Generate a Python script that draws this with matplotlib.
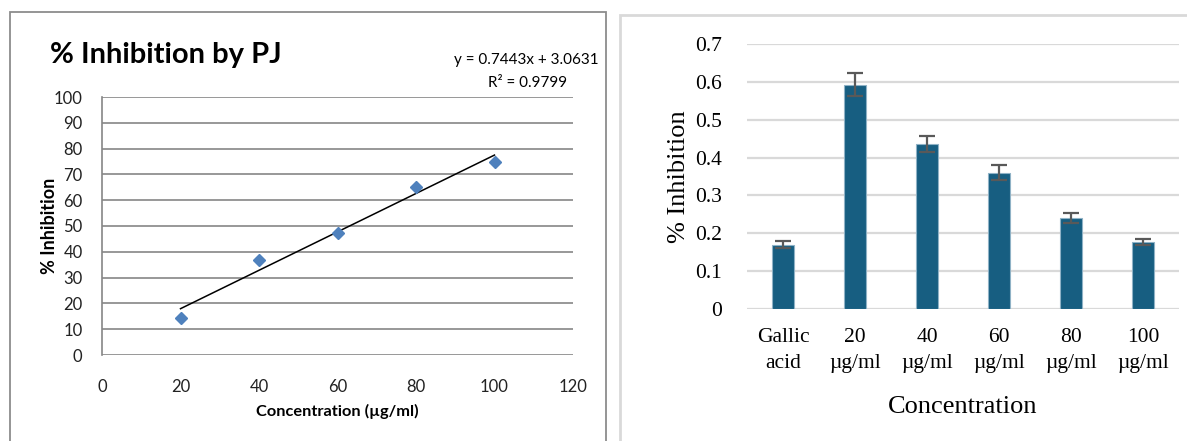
import numpy as np
import matplotlib.pyplot as plt
from matplotlib.patches import Rectangle

# left chart: % inhibition by PJ (scatter + linear trend)
conc = [20, 40, 60, 80, 100]
inhib_pj = [14.2, 37.0, 47.4, 65.2, 74.7]
slope, intercept = 0.7443, 3.0631
r2 = 0.9799

# right chart: bar chart with error bars
categories = ['Gallic\nacid', '20\n\u00b5g/ml', '40\n\u00b5g/ml', '60\n\u00b5g/ml', '80\n\u00b5g/ml', '100\n\u00b5g/ml']
inhib = [0.170, 0.593, 0.436, 0.360, 0.240, 0.177]
err = [0.010, 0.030, 0.022, 0.020, 0.014, 0.009]

W, H = 1187, 441
fig = plt.figure(figsize=(W / 100, H / 100), dpi=100)

# panel frames
fig.patches.append(Rectangle((10 / W, -0.05), 596 / W, 1.05 - 12 / H, transform=fig.transFigure,
                             fill=False, edgecolor='#8c8c8c', lw=1.3))
fig.patches.append(Rectangle((620 / W, -0.05), 0.6, 1.05 - 15 / H, transform=fig.transFigure,
                             fill=False, edgecolor='#d9d9d9', lw=2))

# ---- left ----
sans = 'Lato'
ax1 = fig.add_axes([102 / W, (H - 355) / H, (573 - 102) / W, (355 - 97) / H])
ax1.set_xlim(0, 120)
ax1.set_ylim(0, 100)
ax1.set_xticks(range(0, 121, 20))
ax1.set_yticks(range(0, 101, 10))
ax1.grid(axis='y', color='#868686', lw=1.2)
ax1.set_axisbelow(True)
for s in ['top', 'right', 'bottom']:
    ax1.spines[s].set_visible(False)
ax1.spines['left'].set_color('#868686')
ax1.spines['left'].set_linewidth(1.2)
ax1.tick_params(length=0, labelsize=12, labelcolor='#222222')
ax1.tick_params(axis='x', pad=17)
ax1.tick_params(axis='y', pad=14)
for lab in ax1.get_xticklabels() + ax1.get_yticklabels():
    lab.set_family(sans)

xs = np.array([conc[0], conc[-1]])
ax1.plot(xs, slope * xs + intercept, color='black', lw=1.1)
ax1.plot(conc, inhib_pj, 'D', color='#4f81bd', ms=6.5, mec='#4f81bd')

ax1.set_xlabel('Concentration (\u00b5g/ml)', family=sans, fontweight='bold', fontsize=11.8, labelpad=7)
ax1.set_ylabel('% Inhibition', family=sans, fontweight='bold', fontsize=13, labelpad=-3)
fig.text(50 / W, (H - 55) / H, '% Inhibition by PJ', family=sans, fontweight='bold', fontsize=21,
         va='center', ha='left')
fig.text(599 / W, (H - 60) / H, 'y = 0.7443x + 3.0631', family=sans, fontsize=11, ha='right', va='center')
fig.text(567 / W, (H - 83) / H, 'R\u00b2 = %.4f' % r2, family=sans, fontsize=11, ha='right', va='center')

# ---- right ----
serif = 'Liberation Serif'
ax2 = fig.add_axes([747 / W, (H - 309) / H, (1179 - 747) / W, (309 - 44) / H])
pos = np.arange(len(categories))
ax2.bar(pos, inhib, width=0.31, color='#175e81', edgecolor='#8fb2c6', lw=0.8, zorder=2)
ax2.errorbar(pos, inhib, yerr=err, fmt='none', ecolor='#595959', elinewidth=1.6, capsize=5.5,
             capthick=1.6, zorder=3)
ax2.set_xlim(-0.5, len(categories) - 0.5)
ax2.set_ylim(0, 0.7)
ax2.set_yticks(np.arange(0, 0.71, 0.1))
ax2.set_yticklabels(['0'] + ['%.1f' % v for v in np.arange(0.1, 0.71, 0.1)])
ax2.set_xticks(pos)
ax2.set_xticklabels(categories, linespacing=1.45)
ax2.grid(axis='y', color='#d9d9d9', lw=1.6, zorder=0)
ax2.set_axisbelow(True)
for s in ax2.spines.values():
    s.set_visible(False)
ax2.tick_params(length=0, labelsize=15.5)
ax2.tick_params(axis='x', pad=14)
ax2.tick_params(axis='y', pad=18)
for lab in ax2.get_xticklabels() + ax2.get_yticklabels():
    lab.set_family(serif)
ax2.set_xlabel('Concentration', family=serif, fontsize=19, labelpad=17)
ax2.set_ylabel('% Inhibition', family=serif, fontsize=19, labelpad=4)

fig.savefig('out.png', dpi=100)
